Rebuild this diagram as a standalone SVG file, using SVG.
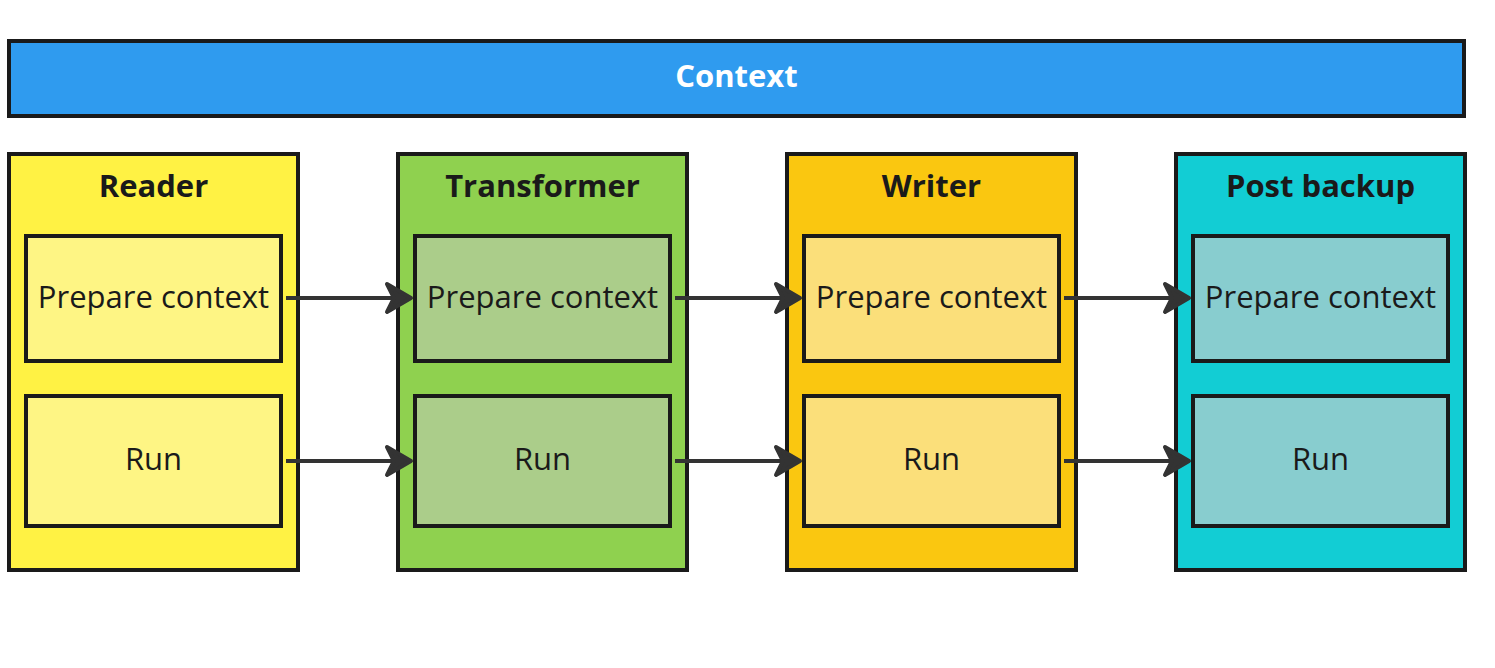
<svg xmlns="http://www.w3.org/2000/svg" width="1495" height="668" viewBox="0 0 1495 668">
<style>
.box{stroke:#1a1a1a;stroke-width:4}
.title{font-family:"Open Sans",sans-serif;font-weight:bold;font-size:31px;fill:#1a1a1a;text-anchor:middle}
.lbl{font-family:"Open Sans",sans-serif;font-size:31px;fill:#1a1a1a;text-anchor:middle}
.conn{stroke:#333333;stroke-width:4;fill:none}
.head{fill:#333333;stroke:#333333;stroke-width:4;stroke-linejoin:round}
</style>
<rect width="1495" height="668" fill="#ffffff"/>
<g id="context">
<rect class="box" x="9" y="41" width="1455" height="75" fill="#2f9bef"/>
<text x="736.5" y="87" class="title" style="fill:#ffffff">Context</text>
</g>
<g id="reader">
<rect class="box" x="9" y="154" width="289" height="416" fill="#fff244"/>
<text x="153.5" y="197" class="title">Reader</text>
</g>
<g id="reader-prepare">
<rect class="box" x="26" y="236" width="255" height="125" fill="#fef584"/>
<text x="153.5" y="308" class="lbl">Prepare context</text>
</g>
<g id="reader-run">
<rect class="box" x="26" y="396" width="255" height="130" fill="#fef584"/>
<text x="153.5" y="470" class="lbl">Run</text>
</g>
<g id="transformer">
<rect class="box" x="398" y="154" width="289" height="416" fill="#8fd14f"/>
<text x="542.5" y="197" class="title">Transformer</text>
</g>
<g id="transformer-prepare">
<rect class="box" x="415" y="236" width="255" height="125" fill="#abcd8a"/>
<text x="542.5" y="308" class="lbl">Prepare context</text>
</g>
<g id="transformer-run">
<rect class="box" x="415" y="396" width="255" height="130" fill="#abcd8a"/>
<text x="542.5" y="470" class="lbl">Run</text>
</g>
<g id="writer">
<rect class="box" x="787" y="154" width="289" height="416" fill="#fac710"/>
<text x="931.5" y="197" class="title">Writer</text>
</g>
<g id="writer-prepare">
<rect class="box" x="804" y="236" width="255" height="125" fill="#fbdf7a"/>
<text x="931.5" y="308" class="lbl">Prepare context</text>
</g>
<g id="writer-run">
<rect class="box" x="804" y="396" width="255" height="130" fill="#fbdf7a"/>
<text x="931.5" y="470" class="lbl">Run</text>
</g>
<g id="postbackup">
<rect class="box" x="1176" y="154" width="289" height="416" fill="#12cdd4"/>
<text x="1320.5" y="197" class="title">Post backup</text>
</g>
<g id="postbackup-prepare">
<rect class="box" x="1193" y="236" width="255" height="125" fill="#88cdcf"/>
<text x="1320.5" y="308" class="lbl">Prepare context</text>
</g>
<g id="postbackup-run">
<rect class="box" x="1193" y="396" width="255" height="130" fill="#88cdcf"/>
<text x="1320.5" y="470" class="lbl">Run</text>
</g>
<g id="connectors">
<line class="conn" x1="286" y1="298" x2="400" y2="298"/>
<path class="head" d="M411 298 L387 284 L394 298 L387 312 Z"/>
<line class="conn" x1="286" y1="461" x2="400" y2="461"/>
<path class="head" d="M411 461 L387 447 L394 461 L387 475 Z"/>
<line class="conn" x1="675" y1="298" x2="789" y2="298"/>
<path class="head" d="M800 298 L776 284 L783 298 L776 312 Z"/>
<line class="conn" x1="675" y1="461" x2="789" y2="461"/>
<path class="head" d="M800 461 L776 447 L783 461 L776 475 Z"/>
<line class="conn" x1="1064" y1="298" x2="1178" y2="298"/>
<path class="head" d="M1189 298 L1165 284 L1172 298 L1165 312 Z"/>
<line class="conn" x1="1064" y1="461" x2="1178" y2="461"/>
<path class="head" d="M1189 461 L1165 447 L1172 461 L1165 475 Z"/>
</g>
</svg>
